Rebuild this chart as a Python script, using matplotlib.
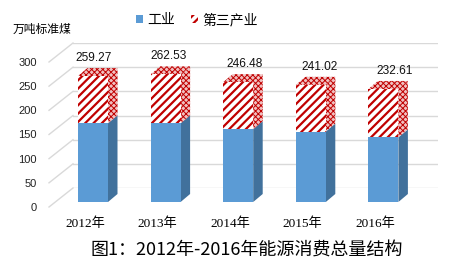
import matplotlib
matplotlib.use("Agg")
import matplotlib.pyplot as plt
import matplotlib.transforms as mtransforms
from matplotlib.patches import Polygon, Patch
import numpy as np

plt.rcParams['font.family'] = ['Liberation Sans', 'Noto Sans CJK SC']

# data
years = ['2012年', '2013年', '2014年', '2015年', '2016年']
totals = [259.27, 262.53, 246.48, 241.02, 232.61]
industry = [162, 162, 150, 145, 133]
services = [t - i for t, i in zip(totals, industry)]
yticks = [0, 50, 100, 150, 200, 250, 300]

blue = '#5B9BD5'
blue_side = '#41719C'
red = '#C00000'
red_face = '#F0C0C0'
grid_c = '#D9D9D9'

W, H = 451, 271
fig = plt.figure(figsize=(W / 100, H / 100), dpi=100)

# back wall with gridlines (sits behind the bars, a bit higher: 3d look)
wall_l, wall_r, wall_b, wall_t = 73, 438, 188, 43
ax_w = fig.add_axes([wall_l / W, 1 - wall_b / H, (wall_r - wall_l) / W, (wall_b - wall_t) / H])
ax_w.set_ylim(0, 300)
ax_w.set_xlim(0, 1)
ax_w.set_xticks([])
ax_w.set_yticks(yticks)
ax_w.grid(axis='y', color=grid_c, linewidth=1)
for s in ax_w.spines.values():
    s.set_visible(False)
ax_w.set_facecolor('none')
ax_w.tick_params(axis='y', length=0, pad=26, labelsize=8, colors='#222222')
px_per_unit = (wall_b - wall_t) / 300
depth_px = 19
shift = mtransforms.ScaledTranslation(0, -depth_px / 100, fig.dpi_scale_trans)
for lab in ax_w.get_yticklabels():
    lab.set_transform(lab.get_transform() + shift)
# side wall slants from the labels to the back wall
tr = ax_w.get_yaxis_transform()
x0 = (49 - wall_l) / (wall_r - wall_l)
for v in yticks:
    ax_w.plot([x0, 0], [v - depth_px / px_per_unit, v], color=grid_c, lw=1,
              transform=tr, clip_on=False)

# bars
bar_px = 0.486
step_px = 72.6
c0 = 93
ax_l, ax_r, ax_b, ax_t = 40, 445, 202, 30
ax = fig.add_axes([ax_l / W, 1 - ax_b / H, (ax_r - ax_l) / W, (ax_b - ax_t) / H])
ax.set_facecolor('none')
ax.set_xlim((ax_l - c0) / step_px, (ax_r - c0) / step_px)
ax.set_ylim(0, (ax_b - ax_t) / bar_px)
for s in ax.spines.values():
    s.set_visible(False)
ax.set_yticks([])

x = np.arange(len(years))
w = 30 / step_px
dx = 9.5 / step_px
dy = 8 / bar_px

plt.rcParams['hatch.linewidth'] = 1.6
ax.bar(x, industry, width=w, color=blue, linewidth=0, zorder=3)
ax.bar(x, services, bottom=industry, width=w, color='white', edgecolor=red,
       hatch='////', linewidth=0, zorder=3)

faces = []
for xi, ind, tot in zip(x, industry, totals):
    r = xi + w / 2
    l = xi - w / 2
    ax.add_patch(Polygon([(r, 0), (r + dx, dy), (r + dx, ind + dy), (r, ind)],
                         closed=True, facecolor=blue_side, linewidth=0, zorder=2))
    faces.append(Polygon([(r, ind), (r + dx, ind + dy), (r + dx, tot + dy), (r, tot)],
                         closed=True, facecolor=red_face, edgecolor=red, hatch='xxxxxx',
                         linewidth=0, zorder=2))
    faces.append(Polygon([(l, tot), (l + dx, tot + dy), (r + dx, tot + dy), (r, tot)],
                         closed=True, facecolor=red_face, edgecolor=red, hatch='xxxxxx',
                         linewidth=0, zorder=2))
for f in faces:
    if hasattr(f, 'set_hatch_linewidth'):
        f.set_hatch_linewidth(0.7)
    ax.add_patch(f)

for i, (xi, tot) in enumerate(zip(x, totals)):
    off = (1 + 2.5 * i) * 0.72
    ax.annotate(f"{tot:.2f}", xy=(xi, tot), xytext=(off, 13), textcoords='offset points',
                ha='center', va='center', fontsize=8.6, color='#111111')

ax.set_xticks(x, years)
ax.tick_params(axis='x', length=0, pad=11)
lshift = mtransforms.ScaledTranslation(-8 / 100, 0, fig.dpi_scale_trans)
for lab in ax.get_xticklabels():
    lab.set_family(['Liberation Serif', 'Noto Sans CJK SC'])
    lab.set_fontsize(9.5)
    lab.set_transform(lab.get_transform() + lshift)

handles = [Patch(facecolor=blue, linewidth=0),
           Patch(facecolor='white', edgecolor=red, hatch='////', linewidth=0)]
fig.legend(handles, ['工业', '第三产业'], loc='center', bbox_to_anchor=(197 / W, 1 - 20 / H),
           ncol=2, frameon=False, fontsize=10, handlelength=0.5, handleheight=0.5,
           handletextpad=0.3, columnspacing=1.2)

fig.text(13 / W, 1 - 30 / H, '万吨标准煤', ha='left', va='center', fontsize=8.5)
fig.text(247 / W, 1 - 251 / H, '图1：2012年-2016年能源消费总量结构', ha='center', va='center',
         fontsize=13, family=['Noto Sans CJK SC'])

fig.savefig('out.png', dpi=100)
